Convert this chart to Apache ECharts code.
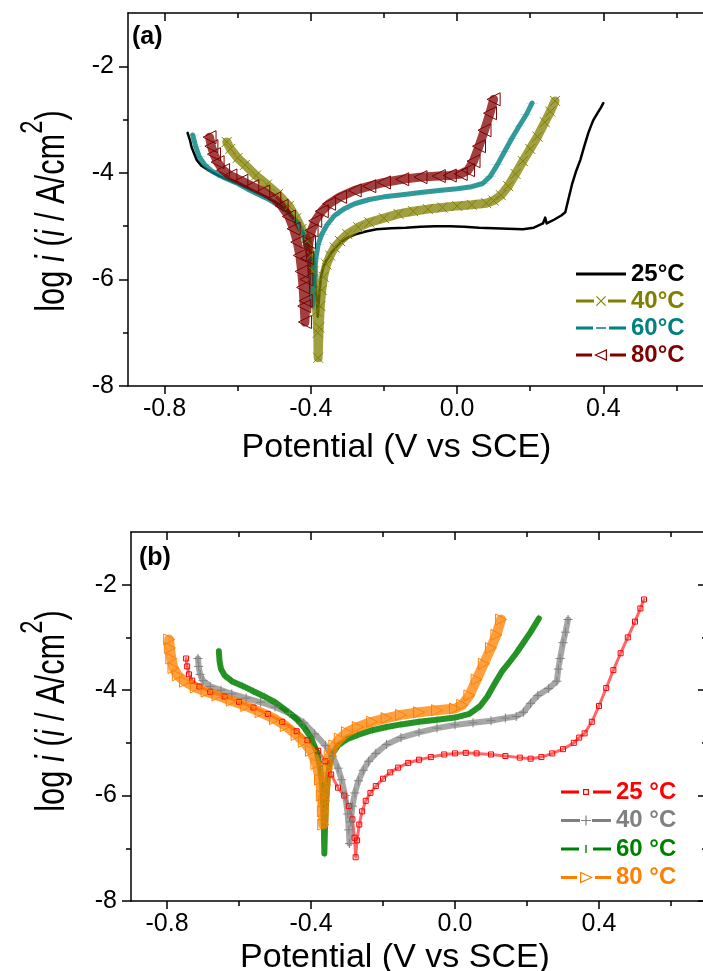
<!DOCTYPE html>
<html>
<head>
<meta charset="utf-8">
<script src="https://cdn.jsdelivr.net/npm/echarts@6.0.0/dist/echarts.min.js"></script>
<style>
html, body { margin: 0; padding: 0; background: #fff; }
#main { width: 703px; height: 971px; }
</style>
</head>
<body>
<div id="main"></div>
<script>
// ---- panel (a) : potential (V vs SCE) / log i ----
var a25E = [-0.737, -0.730, -0.726, -0.712, -0.70, -0.68, -0.65, -0.60, -0.55, -0.50, -0.46, -0.43, -0.41, -0.397, -0.390, -0.385, -0.381,
  -0.376, -0.372, -0.366, -0.358, -0.348, -0.335, -0.318, -0.30, -0.28, -0.25, -0.22, -0.18, -0.14, -0.10, -0.06, -0.02, 0.02, 0.06, 0.10,
  0.14, 0.18, 0.21, 0.235, 0.241, 0.245, 0.265, 0.285, 0.296, 0.304, 0.315, 0.325, 0.337, 0.348, 0.359, 0.372, 0.384, 0.393, 0.40];
var a25I = [-3.25, -3.40, -3.52, -3.76, -3.86, -3.95, -4.06, -4.20, -4.37, -4.53, -4.73, -4.98, -5.28, -5.60, -5.90, -6.25, -6.70,
  -6.20, -5.95, -5.78, -5.65, -5.55, -5.42, -5.30, -5.22, -5.16, -5.10, -5.06, -5.04, -5.03, -5.01, -5.00, -5.00, -5.01, -5.03, -5.04,
  -5.05, -5.06, -5.03, -4.95, -4.84, -4.95, -4.88, -4.80, -4.74, -4.51, -4.20, -3.98, -3.76, -3.50, -3.25, -3.02, -2.88, -2.78, -2.69];

var a40E = [-0.630, -0.620, -0.60, -0.58, -0.55, -0.52, -0.49, -0.46, -0.44, -0.425, -0.41, -0.40, -0.393, -0.388, -0.384, -0.381, -0.380,
  -0.377, -0.374, -0.370, -0.365, -0.357, -0.347, -0.335, -0.32, -0.30, -0.27, -0.24, -0.20, -0.16, -0.12, -0.08, -0.04, 0.0, 0.04, 0.08,
  0.10, 0.12, 0.14, 0.16, 0.18, 0.20, 0.22, 0.24, 0.255, 0.268];
var a40I = [-3.42, -3.55, -3.72, -3.85, -4.05, -4.22, -4.40, -4.62, -4.85, -5.05, -5.28, -5.55, -5.85, -6.20, -6.60, -7.00, -7.47,
  -6.90, -6.50, -6.20, -5.95, -5.72, -5.55, -5.40, -5.28, -5.15, -5.02, -4.93, -4.85, -4.77, -4.72, -4.68, -4.65, -4.62, -4.60, -4.57,
  -4.52, -4.42, -4.25, -4.02, -3.78, -3.55, -3.32, -3.05, -2.85, -2.65];

var a60E = [-0.723, -0.715, -0.705, -0.69, -0.67, -0.64, -0.60, -0.56, -0.52, -0.49, -0.46, -0.44, -0.425, -0.413, -0.405, -0.400, -0.397,
  -0.396, -0.393, -0.390, -0.386, -0.38, -0.37, -0.355, -0.335, -0.31, -0.28, -0.24, -0.20, -0.15, -0.10, -0.05, 0.0, 0.04, 0.07, 0.09,
  0.11, 0.13, 0.15, 0.17, 0.19, 0.205];
var a60I = [-3.29, -3.50, -3.70, -3.85, -3.97, -4.08, -4.20, -4.35, -4.48, -4.60, -4.75, -4.90, -5.08, -5.30, -5.60, -5.95, -6.30,
  -6.50, -6.20, -5.90, -5.60, -5.35, -5.15, -4.97, -4.80, -4.68, -4.58, -4.50, -4.45, -4.41, -4.37, -4.33, -4.30, -4.26, -4.20, -4.07,
  -3.85, -3.60, -3.35, -3.12, -2.90, -2.69];

var a80E = [-0.677, -0.672, -0.665, -0.655, -0.64, -0.62, -0.59, -0.56, -0.53, -0.50, -0.48, -0.46, -0.447, -0.437, -0.430, -0.425, -0.421,
  -0.418, -0.416, -0.414, -0.412, -0.410, -0.405, -0.398, -0.388, -0.37, -0.35, -0.32, -0.28, -0.24, -0.20, -0.15, -0.10, -0.05, -0.02,
  0.01, 0.03, 0.045, 0.06, 0.075, 0.09, 0.10];
var a80I = [-3.33, -3.50, -3.65, -3.80, -3.95, -4.05, -4.15, -4.25, -4.35, -4.48, -4.62, -4.82, -5.05, -5.30, -5.55, -5.85, -6.15,
  -6.50, -6.80, -6.40, -6.00, -5.60, -5.30, -5.08, -4.90, -4.72, -4.58, -4.45, -4.33, -4.25, -4.18, -4.12, -4.08, -4.06, -4.05,
  -4.02, -3.95, -3.78, -3.50, -3.20, -2.88, -2.62];

// ---- panel (b) ----
var b25E = [-0.747, -0.744, -0.739, -0.73, -0.71, -0.68, -0.64, -0.60, -0.56, -0.52, -0.48, -0.44, -0.41, -0.38, -0.36, -0.344, -0.325,
  -0.308, -0.295, -0.285, -0.279, -0.276, -0.272, -0.266, -0.258, -0.248, -0.235, -0.22, -0.20, -0.18, -0.158, -0.13, -0.10, -0.067,
  -0.03, 0.0, 0.03, 0.06, 0.10, 0.14, 0.18, 0.21, 0.24, 0.27, 0.30, 0.33, 0.345, 0.36, 0.38, 0.40, 0.42, 0.44, 0.46, 0.48, 0.50, 0.515, 0.525];
var b25I = [-3.40, -3.55, -3.70, -3.82, -3.93, -4.03, -4.12, -4.22, -4.33, -4.45, -4.60, -4.78, -4.95, -5.15, -5.35, -5.60, -5.85,
  -6.00, -6.20, -6.45, -6.80, -7.17, -6.85, -6.55, -6.30, -6.10, -5.95, -5.82, -5.68, -5.56, -5.47, -5.38, -5.32, -5.27,
  -5.22, -5.20, -5.19, -5.20, -5.22, -5.25, -5.28, -5.30, -5.27, -5.20, -5.12, -5.00, -4.90, -4.82, -4.60, -4.30, -3.96, -3.62, -3.30, -3.00, -2.70, -2.45, -2.28];

var b40E = [-0.714, -0.712, -0.708, -0.70, -0.68, -0.65, -0.62, -0.58, -0.54, -0.50, -0.46, -0.42, -0.39, -0.36, -0.34, -0.325, -0.315,
  -0.305, -0.298, -0.295, -0.293, -0.29, -0.285, -0.278, -0.268, -0.255, -0.24, -0.22, -0.19, -0.15, -0.10, -0.05, 0.0, 0.05, 0.10,
  0.14, 0.17, 0.19, 0.21, 0.23, 0.26, 0.283, 0.287, 0.292, 0.300, 0.307, 0.314];
var b40I = [-3.40, -3.55, -3.70, -3.82, -3.93, -4.00, -4.07, -4.15, -4.23, -4.32, -4.44, -4.62, -4.83, -5.05, -5.25, -5.48, -5.70,
  -6.00, -6.35, -6.65, -6.91, -6.50, -6.20, -5.95, -5.72, -5.52, -5.35, -5.20, -5.03, -4.90, -4.80, -4.72, -4.66, -4.62, -4.58,
  -4.53, -4.50, -4.42, -4.25, -4.10, -3.97, -3.83, -3.60, -3.40, -3.10, -2.90, -2.66];

var b60E = [-0.656, -0.654, -0.65, -0.64, -0.62, -0.59, -0.56, -0.53, -0.50, -0.47, -0.44, -0.42, -0.40, -0.385, -0.375, -0.369, -0.366,
  -0.364, -0.363, -0.361, -0.358, -0.354, -0.348, -0.34, -0.325, -0.30, -0.27, -0.23, -0.19, -0.15, -0.10, -0.05, 0.0, 0.04, 0.07, 0.09,
  0.11, 0.13, 0.15, 0.17, 0.19, 0.21, 0.233];
var b60I = [-3.26, -3.45, -3.60, -3.72, -3.83, -3.92, -4.02, -4.12, -4.23, -4.38, -4.55, -4.70, -4.90, -5.15, -5.45, -5.80, -6.20,
  -6.70, -7.10, -6.60, -6.10, -5.70, -5.40, -5.20, -5.05, -4.93, -4.85, -4.76, -4.70, -4.65, -4.60, -4.56, -4.52, -4.45, -4.30, -4.12,
  -3.88, -3.65, -3.48, -3.30, -3.10, -2.90, -2.64];

var b80E = [-0.794, -0.792, -0.788, -0.782, -0.77, -0.75, -0.72, -0.69, -0.66, -0.62, -0.58, -0.54, -0.50, -0.47, -0.44, -0.42, -0.40,
  -0.385, -0.375, -0.370, -0.367, -0.366, -0.363, -0.360, -0.355, -0.348, -0.335, -0.32, -0.30, -0.27, -0.23, -0.19, -0.15, -0.10, -0.05,
  0.0, 0.02, 0.04, 0.06, 0.08, 0.10, 0.115, 0.128];
var b80I = [-3.04, -3.20, -3.40, -3.58, -3.72, -3.84, -3.95, -4.03, -4.10, -4.20, -4.30, -4.42, -4.55, -4.68, -4.85, -4.98, -5.15,
  -5.40, -5.70, -6.00, -6.30, -6.55, -6.10, -5.80, -5.50, -5.25, -5.05, -4.92, -4.80, -4.70, -4.60, -4.53, -4.47, -4.42, -4.38,
  -4.35, -4.28, -4.10, -3.80, -3.50, -3.20, -2.95, -2.66];

var xMajor = [-0.8, -0.4, 0, 0.4];
var xMinor = [-0.6, -0.2, 0.2, 0.6];
var yMajor = [-8, -6, -4, -2];
var yMinor = [-7, -5, -3];

var namesA = ['25°C', '40°C', '60°C', '80°C'];
var namesB = ['25 °C', '40 °C', '60 °C', '80 °C'];
var colorsA = ['#000000', '#808000', '#008080', '#800000'];
var colorsB = ['#ff0000', '#808080', '#008000', '#ff8000'];

var font = 'Liberation Sans, Arial, sans-serif';

function pairs(e, v) {
  var out = [];
  for (var i = 0; i < e.length; i++) out.push([e[i], v[i]]);
  return out;
}

var axisLineStyle = { color: '#000', width: 1.5 };
var noLine = { show: false, onZero: false };

function makeX(g, gap) {
  var base = { type: 'value', gridIndex: g, min: -0.9, max: 0.7, splitLine: { show: false } };
  return [
    Object.assign({}, base, {
      position: 'bottom',
      axisLine: { show: true, onZero: false, lineStyle: axisLineStyle },
      axisTick: { show: true, customValues: xMajor, length: 8, lineStyle: axisLineStyle },
      axisLabel: { customValues: xMajor, color: '#000', fontSize: 25, fontFamily: font, margin: 11,
        formatter: function(v) { return v.toFixed(1); } },
      name: 'Potential (V vs SCE)', nameLocation: 'middle', nameGap: gap,
      nameTextStyle: { color: '#000', fontSize: 34, fontFamily: font, padding: [0, 48, 0, 0] }
    }),
    Object.assign({}, base, {
      position: 'bottom',
      axisLine: noLine,
      axisTick: { show: true, customValues: xMinor, length: 5, lineStyle: axisLineStyle },
      axisLabel: { show: false }
    }),
    Object.assign({}, base, {
      position: 'top',
      axisLine: { show: true, onZero: false, lineStyle: axisLineStyle },
      axisTick: { show: true, inside: true, customValues: xMajor, length: 8, lineStyle: axisLineStyle },
      axisLabel: { show: false }
    }),
    Object.assign({}, base, {
      position: 'top',
      axisLine: noLine,
      axisTick: { show: true, inside: true, customValues: xMinor, length: 5, lineStyle: axisLineStyle },
      axisLabel: { show: false }
    })
  ];
}

function makeY(g) {
  var base = { type: 'value', gridIndex: g, min: -8, max: -1, splitLine: { show: false } };
  return [
    Object.assign({}, base, {
      position: 'left',
      axisLine: { show: true, onZero: false, lineStyle: axisLineStyle },
      axisTick: { show: true, customValues: yMajor, length: 9, lineStyle: axisLineStyle },
      axisLabel: { customValues: yMajor, color: '#000', fontSize: 25, fontFamily: font, margin: 14 }
    }),
    Object.assign({}, base, {
      position: 'left',
      axisLine: noLine,
      axisTick: { show: true, customValues: yMinor, length: 5, lineStyle: axisLineStyle },
      axisLabel: { show: false }
    }),
    Object.assign({}, base, {
      position: 'right',
      axisLine: { show: true, onZero: false, lineStyle: axisLineStyle },
      axisTick: { show: true, inside: true, customValues: yMajor, length: 9, lineStyle: axisLineStyle },
      axisLabel: { show: false }
    }),
    Object.assign({}, base, {
      position: 'right',
      axisLine: noLine,
      axisTick: { show: true, inside: true, customValues: yMinor, length: 5, lineStyle: axisLineStyle },
      axisLabel: { show: false }
    })
  ];
}

// y title: tall, condensed lettering as in the source figure
function yTitle(cx, cy) {
  return {
    type: 'text', x: cx, y: cy, rotation: Math.PI / 2, scaleX: 0.77, silent: true,
    style: {
      text: '{n|log }{i|i}{n| (}{i|i}{n| / A/cm}{s|2}{n|)}',
      align: 'center', verticalAlign: 'middle', fill: '#000',
      fontSize: 40, fontFamily: font,
      rich: {
        n: { fill: '#000', fontSize: 40, fontFamily: font },
        i: { fill: '#000', fontSize: 40, fontFamily: font, fontStyle: 'italic' },
        s: { fill: '#000', fontSize: 31, fontFamily: font, padding: [0, 0, 40, 0] }
      }
    }
  };
}

// marker shapes
var symX = 'path://M0,0L10,10M10,0L0,10';
var symPlus = 'path://M5,0L5,10M0,5L10,5';
var symDash = 'path://M0,0L8,0L8,1L0,1Z';
var symBar = 'path://M0,0L1,0L1,8L0,8Z';

// each marked curve is drawn as a soft band (thick line) with its markers on top
function line(name, g, e, v, color, opt) {
  return {
    name: name, type: 'line', xAxisIndex: g * 4, yAxisIndex: g * 4,
    data: pairs(e, v),
    lineStyle: { color: color, width: opt.lw, opacity: opt.op || 1, join: 'round', cap: 'round' },
    itemStyle: opt.open ? { color: 'none', borderColor: color, borderWidth: 1 } : { color: color, borderWidth: 0 },
    symbol: opt.symbol || 'none',
    symbolSize: opt.size || 0,
    symbolRotate: opt.rotate || 0,
    symbolKeepAspect: true,
    showSymbol: !!opt.symbol,
    emphasis: { disabled: true },
    z: 2
  };
}

var series = [
  line(namesA[0], 0, a25E, a25I, colorsA[0], { lw: 2.5 }),
  line(namesA[1], 0, a40E, a40I, colorsA[1], { lw: 9, op: 0.75, symbol: symX, size: 10, open: true }),
  line(namesA[2], 0, a60E, a60I, colorsA[2], { lw: 5, op: 0.8, symbol: symDash, size: [12, 1.5] }),
  line(namesA[3], 0, a80E, a80I, colorsA[3], { lw: 9, op: 0.75, symbol: 'triangle', size: 13, rotate: 90, open: true }),
  line(namesB[0], 1, b25E, b25I, colorsB[0], { lw: 3, op: 0.6, symbol: 'rect', size: 5, open: true }),
  line(namesB[1], 1, b40E, b40I, colorsB[1], { lw: 6, op: 0.7, symbol: symPlus, size: 9, open: true }),
  line(namesB[2], 1, b60E, b60I, colorsB[2], { lw: 6, op: 0.85, symbol: symBar, size: [1.5, 9] }),
  line(namesB[3], 1, b80E, b80I, colorsB[3], { lw: 10, op: 0.75, symbol: 'triangle', size: 11, rotate: -90, open: true })
];

// legend icons, drawn in a 50 x 14 box
var iconsA = [
  'path://M0,5.5H50V8.5H0Z',
  'path://M0,5.5H18V8.5H0ZM32,5.5H50V8.5H32ZM20,2.8L20.8,2L30,11.2L29.2,12ZM29.2,2L30,2.8L20.8,12L20,11.2Z',
  'path://M0,5.5H17V8.5H0ZM20,6.2H30V7.8H20ZM33,5.5H50V8.5H33Z',
  'path://M0,5.5H16V8.5H0ZM34,5.5H50V8.5H34ZM18,7L31,1L31,13ZM20.6,7L29.8,11.1L29.8,2.9Z'
];
var iconsB = [
  'path://M0,5.5H18V8.5H0ZM32,5.5H50V8.5H32ZM22,4H28V10H22ZM23.2,5.2V8.8H26.8V5.2Z',
  'path://M0,5.5H19V8.5H0ZM31,5.5H50V8.5H31ZM24.4,2H25.6V12H24.4ZM20,6.4H30V7.6H20Z',
  'path://M0,5.5H18V8.5H0ZM32,5.5H50V8.5H32ZM24.3,3H25.7V11H24.3Z',
  'path://M0,5.5H16V8.5H0ZM34,5.5H50V8.5H34ZM32,7L19,1L19,13ZM29.4,7L20.2,11.1L20.2,2.9Z'
];

function legendData(names, colors, icons) {
  return names.map(function(n, i) {
    return { name: n, icon: icons[i], itemStyle: { color: colors[i], borderWidth: 0 }, textStyle: { color: colors[i] } };
  });
}

var legendBase = {
  orient: 'vertical', itemWidth: 50, itemHeight: 14, padding: 0, selectedMode: false,
  textStyle: { fontSize: 24, fontWeight: 'bold', fontFamily: font }
};

var option = {
  animation: false,
  backgroundColor: '#fff',
  title: [
    { text: '(a)', left: 132, top: 25, padding: 0, textStyle: { fontSize: 25, fontWeight: 'bold', fontFamily: font, color: '#000' } },
    { text: '(b)', left: 139, top: 546, padding: 0, textStyle: { fontSize: 25, fontWeight: 'bold', fontFamily: font, color: '#000' } }
  ],
  graphic: [yTitle(53, 211), yTitle(53, 711)],
  grid: [
    { left: 128, top: 13, width: 585, height: 373, outerBoundsMode: 'none', containLabel: false },
    { left: 131, top: 532, width: 576, height: 369, outerBoundsMode: 'none', containLabel: false }
  ],
  legend: [
    Object.assign({}, legendBase, { left: 576, top: 262, itemGap: 3, data: legendData(namesA, colorsA, iconsA) }),
    Object.assign({}, legendBase, { left: 561, top: 780, itemGap: 4.5, data: legendData(namesB, colorsB, iconsB) })
  ],
  xAxis: makeX(0, 45).concat(makeX(1, 40)),
  yAxis: makeY(0).concat(makeY(1)),
  series: series
};

var chart = echarts.init(document.getElementById('main'), null, { renderer: 'canvas' });
chart.setOption(option);
</script>
</body>
</html>
